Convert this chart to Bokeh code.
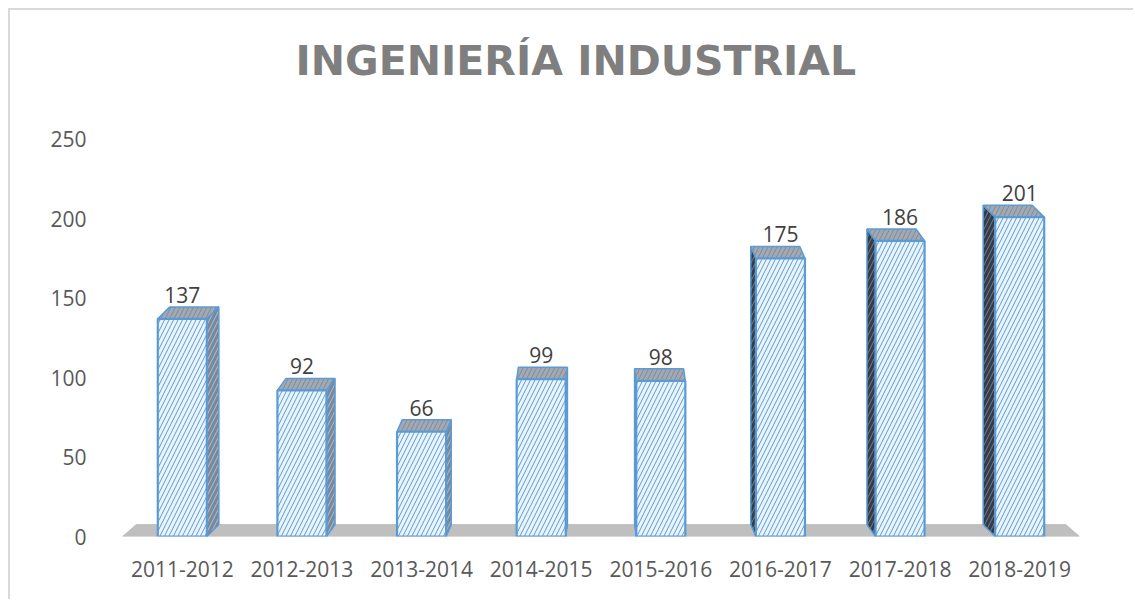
from bokeh.plotting import figure
from bokeh.models import Range1d, FixedTicker, ColumnDataSource
from bokeh.embed import file_html
from bokeh.resources import INLINE
from bokeh.core.properties import value

# ---- data ----
categories = ["2011-2012", "2012-2013", "2013-2014", "2014-2015",
              "2015-2016", "2016-2017", "2017-2018", "2018-2019"]
students = [137, 92, 66, 99, 98, 175, 186, 201]
y_ticks = [0, 50, 100, 150, 200, 250]
title_text = "INGENIERÍA INDUSTRIAL"

# ---- style / geometry constants ----
FONT = "Open Sans"
BAR_W = 0.41
DEPTH_Y = 7.5      # pseudo-3D depth (in y units)
PERSP = 0.0287     # perspective shift per category from the centre
Y_END = 270        # room above the top tick (no grid, invisible)

n = len(categories)
xs = list(range(n))
mid = (n - 1) / 2.0

p = figure(width=1125, height=591,
           x_range=Range1d(-0.5, n - 0.5), y_range=Range1d(0, Y_END),
           output_backend="svg", toolbar_location=None,
           min_border_left=112, min_border_right=56,
           min_border_top=97, min_border_bottom=65)
p.margin = (8, 0, 0, 8)
p.styles = {"border-left": "2px solid #d9d9d9", "border-top": "2px solid #d9d9d9"}

p.title.text = title_text
p.title.text_font = "DejaVu Sans"
p.title.text_font_size = "41px"
p.title.text_font_style = "bold"
p.title.text_color = "#7f7f7f"
p.title.align = "left"
p.title.offset = 173
p.title.standoff = 45

p.xgrid.visible = False
p.ygrid.visible = False
p.outline_line_color = None
p.background_fill_color = "white"
p.border_fill_color = "white"

# axes
xa = p.xaxis[0]
xa.ticker = FixedTicker(ticks=xs)
xa.major_label_overrides = {i: c for i, c in zip(xs, categories)}
ya = p.yaxis[0]
ya.ticker = FixedTicker(ticks=y_ticks)
for ax in (xa, ya):
    ax.axis_line_color = None
    ax.major_tick_line_color = None
    ax.minor_tick_line_color = None
    ax.major_label_text_font = FONT
    ax.major_label_text_font_size = "21px"
    ax.major_label_text_color = "#595959"
xa.major_label_standoff = 18
ya.major_label_standoff = 30

# floor
dxl = (mid - (-0.5)) * PERSP
dxr = (mid - (n - 0.5)) * PERSP
p.patch([-0.5, n - 0.5, n - 0.5 + dxr, -0.5 + dxl], [0, 0, DEPTH_Y, DEPTH_Y],
        fill_color="#bfbfbf", line_color="#bfbfbf", line_width=1)

# pseudo-3D faces
top_xs, top_ys = [], []
rs_xs, rs_ys = [], []
ls_xs, ls_ys = [], []
for i, v in zip(xs, students):
    dx = (mid - i) * PERSP
    xl, xr = i - BAR_W / 2, i + BAR_W / 2
    top_xs.append([xl, xr, xr + dx, xl + dx])
    top_ys.append([v, v, v + DEPTH_Y, v + DEPTH_Y])
    if dx > 0:
        rs_xs.append([xr, xr, xr + dx, xr + dx])
        rs_ys.append([0, v, v + DEPTH_Y, DEPTH_Y])
    elif dx < 0:
        ls_xs.append([xl, xl, xl + dx, xl + dx])
        ls_ys.append([0, v, v + DEPTH_Y, DEPTH_Y])

p.patches(rs_xs, rs_ys, fill_color="#7d8796", line_color="#5b9bd5", line_width=1.5,
          hatch_pattern="/", hatch_color="#9dc3e6", hatch_scale=9, hatch_weight=1)
p.patches(ls_xs, ls_ys, fill_color="#353c47", line_color="#5b9bd5", line_width=1.5,
          hatch_pattern="/", hatch_color="#6f7f95", hatch_scale=9, hatch_weight=1)
p.patches(top_xs, top_ys, fill_color="#a3a9b1", line_color="#5b9bd5", line_width=1.5,
          hatch_pattern="/", hatch_color="#7a8aa0", hatch_scale=9, hatch_weight=1)

src = ColumnDataSource(dict(x=xs, v=students, label=[str(s) for s in students]))
p.vbar(x="x", top="v", bottom=0, width=BAR_W, source=src,
       fill_color="#eaf4fc", line_color="#5b9bd5", line_width=2.2,
       hatch_pattern="/", hatch_color="#5b9bd5", hatch_scale=9, hatch_weight=1)

p.text(x="x", y="v", text="label", source=src, y_offset=-24,
       text_align="center", text_baseline="alphabetic",
       text_font=value(FONT), text_font_size="21px", text_color="#404040")

open("out.html", "w").write(file_html(p, INLINE))
